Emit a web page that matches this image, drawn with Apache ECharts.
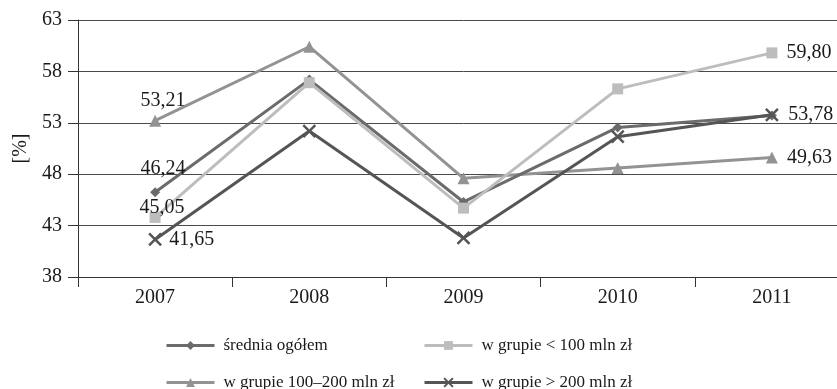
<!DOCTYPE html>
<html>
<head>
<meta charset="utf-8">
<script src="https://cdn.jsdelivr.net/npm/echarts@6/dist/echarts.min.js"></script>
<style>html,body{margin:0;padding:0;background:#fff;overflow:hidden;width:837px;height:389px}#c{width:849px;height:389px}</style>
</head>
<body>
<div id="c"></div>
<script>
const categories = ['2007', '2008', '2009', '2010', '2011'];
const seriesNames = ['średnia ogółem', 'w grupie < 100 mln zł', 'w grupie 100–200 mln zł', 'w grupie > 200 mln zł'];
const avgAll = [46.24, 57.2, 45.3, 52.55, 53.7];
const under100 = [43.8, 56.9, 44.7, 56.3, 59.80];
const from100to200 = [53.21, 60.4, 47.6, 48.6, 49.63];
const over200 = [41.65, 52.2, 41.8, 51.65, 53.78];
const labelTexts = {
  avgAll: ['46,24', '', '', '', ''],
  under100: ['45,05', '', '', '', '59,80'],
  from100to200: ['53,21', '', '', '', '49,63'],
  over200: ['41,65', '', '', '', '53,78']
};
const yMin = 38, yMax = 63, yStep = 5;

const serif = 'Liberation Serif';
const labelStyle = {fontFamily: serif, fontSize: 20, color: '#1a1a1a'};

function mkData(vals, texts, labelOpts) {
  return vals.map((v, i) => {
    if (!texts[i]) return v;
    return {value: v, label: Object.assign({show: true, formatter: texts[i]}, labelStyle, labelOpts[i] || {})};
  });
}

function mkLegend(name, left, top) {
  return {data: [name], orient: 'horizontal', left: left, top: top, itemWidth: 48, itemHeight: 11, padding: 0,
    lineStyle: {width: 3},
    textStyle: {fontFamily: serif, fontSize: 17, color: '#1a1a1a', padding: [0, 0, 0, 4]}};
}

const chart = echarts.init(document.getElementById('c'));
chart.setOption({
  animation: false,
  backgroundColor: '#fff',
  grid: {left: 78, right: 0, top: 20, bottom: 112, containLabel: false},
  xAxis: {
    type: 'category', data: categories, boundaryGap: true,
    axisLine: {lineStyle: {color: '#333', width: 1}},
    axisTick: {show: true, length: 10, lineStyle: {color: '#333'}},
    axisLabel: {fontFamily: serif, fontSize: 20, color: '#1a1a1a', margin: 11}
  },
  yAxis: {
    type: 'value', min: yMin, max: yMax, interval: yStep,
    name: '[%]', nameLocation: 'middle', nameGap: 42, nameRotate: 90,
    nameTextStyle: {fontFamily: serif, fontSize: 20, color: '#1a1a1a'},
    axisLine: {show: true, lineStyle: {color: '#333'}},
    axisTick: {show: true, length: 10, lineStyle: {color: '#333'}},
    axisLabel: {fontFamily: serif, fontSize: 20, color: '#1a1a1a', margin: 16},
    splitLine: {lineStyle: {color: '#4a4a4a', width: 1}}
  },
  legend: [
    mkLegend(seriesNames[0], 165, 337),
    mkLegend(seriesNames[2], 165, 374),
    mkLegend(seriesNames[1], 423, 337),
    mkLegend(seriesNames[3], 423, 374)
  ],
  series: [
    {name: seriesNames[2], type: 'line', data: mkData(from100to200, labelTexts.from100to200, {0: {position: 'top', distance: 4, offset: [8, 0]}, 4: {position: 'right', distance: 9}}),
     symbol: 'triangle', symbolSize: 12, lineStyle: {color: '#939393', width: 3}, itemStyle: {color: '#939393'}, z: 2},
    {name: seriesNames[0], type: 'line', data: mkData(avgAll, labelTexts.avgAll, {0: {position: 'top', distance: 9, offset: [8, 0]}}),
     symbol: 'diamond', symbolSize: 10, lineStyle: {color: '#6b6b6b', width: 3}, itemStyle: {color: '#6b6b6b'}, z: 3},
    {name: seriesNames[1], type: 'line', data: mkData(under100, labelTexts.under100, {0: {position: 'top', distance: -6, offset: [7, 0]}, 4: {position: 'right', distance: 9}}),
     symbol: 'rect', symbolSize: 11, lineStyle: {color: '#bdbdbd', width: 3}, itemStyle: {color: '#bdbdbd'}, z: 4},
    {name: seriesNames[3], type: 'line', data: mkData(over200, labelTexts.over200, {0: {position: 'right', distance: 7}, 4: {position: 'right', distance: 9}}),
     symbol: 'path://M0,0L10,10M10,0L0,10', symbolSize: 12, lineStyle: {color: '#555555', width: 3},
     itemStyle: {color: '#555555', borderColor: '#555555', borderWidth: 2.5}, z: 5}
  ]
});
</script>
</body>
</html>
